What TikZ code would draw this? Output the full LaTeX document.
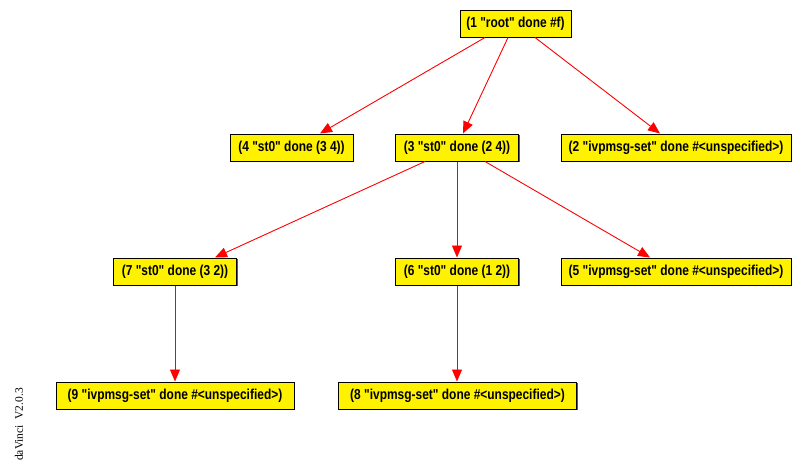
\documentclass[tikz,border=0pt]{standalone}
\usepackage{fontspec}
\setmainfont{Liberation Sans}
\newfontfamily\boxfont[FakeStretch=0.83]{Liberation Sans Bold}
\newfontfamily\versionfont{Liberation Serif}
\usetikzlibrary{arrows.meta,shadows}
\begin{document}
\begin{tikzpicture}[x=1pt,y=-1pt,
  term/.style={draw=black, line width=1pt, fill=yellow, inner xsep=2pt,
    minimum height=27pt, font=\boxfont\fontsize{14.4}{16}\selectfont,
    drop shadow={shadow xshift=1pt, shadow yshift=-1pt, fill=black!65, opacity=1}},
  rootterm/.style={term, minimum width=111pt},
  shortterm/.style={term, minimum width=123pt},
  longterm/.style={term, minimum width=238pt},
  edge/.style={draw=red, line width=0.9pt, -{Triangle[length=12pt,width=10pt]}}]
\useasboundingbox (0,0) rectangle (792,463);

% tree nodes
\node[rootterm]  (n1) at (515.5,23.5) {(1 "root" done \#f)};
\node[shortterm] (n4) at (291.5,147.5) {(4 "st0" done (3 4))};
\node[shortterm] (n3) at (457,147.5) {(3 "st0" done (2 4))};
\node[longterm, minimum width=230pt] (n2) at (676,147.5) {(2 "ivpmsg-set" done \#<unspecified>)};
\node[shortterm] (n7) at (175,271.5) {(7 "st0" done (3 2))};
\node[shortterm] (n6) at (457,271.5) {(6 "st0" done (1 2))};
\node[longterm, minimum width=230pt] (n5) at (676,271.5) {(5 "ivpmsg-set" done \#<unspecified>)};
\node[longterm]  (n9) at (175,395.5) {(9 "ivpmsg-set" done \#<unspecified>)};
\node[longterm]  (n8) at (457.5,395.5) {(8 "ivpmsg-set" done \#<unspecified>)};

% edges
\draw[edge] ([xshift=-30.5pt]n1.south) -- ([xshift=28.5pt]n4.north);
\draw[edge] ([xshift=-7.5pt]n1.south) -- ([xshift=6pt]n3.north);
\draw[edge] ([xshift=19.5pt]n1.south) -- ([xshift=-16pt]n2.north);
\draw[edge] ([xshift=-32pt]n3.south) -- ([xshift=40pt]n7.north);
\draw[edge] (n3.south) -- (n6.north);
\draw[edge] ([xshift=28pt]n3.south) -- ([xshift=-26pt]n5.north);
\draw[edge] (n7.south) -- (n9.north);
\draw[edge] (n6.south) -- ([xshift=-0.5pt]n8.north);

% version stamp
\node[rotate=90, anchor=west, inner sep=0pt, font=\versionfont\fontsize{11.5}{13}\selectfont]
  (stamp) at (19,461) {daVinci\ \ V2.0.3};
\end{tikzpicture}
\end{document}
